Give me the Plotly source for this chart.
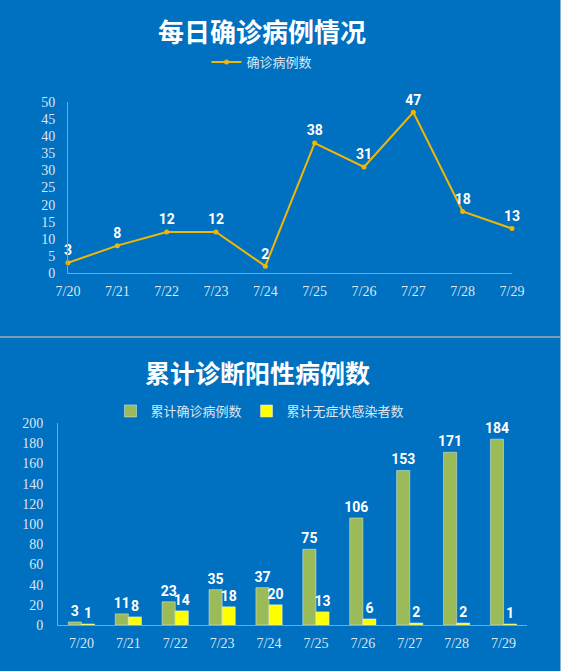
import plotly.graph_objects as go

dates = ["7/20", "7/21", "7/22", "7/23", "7/24", "7/25", "7/26", "7/27", "7/28", "7/29"]
daily_confirmed = [3, 8, 12, 12, 2, 38, 31, 47, 18, 13]
cum_confirmed = [3, 11, 23, 35, 37, 75, 106, 153, 171, 184]
cum_asymptomatic = [1, 8, 14, 18, 20, 13, 6, 2, 2, 1]

top_title = "每日确诊病例情况"
bottom_title = "累计诊断阳性病例数"
top_ticks = [0, 5, 10, 15, 20, 25, 30, 35, 40, 45, 50]
bottom_ticks = [0, 20, 40, 60, 80, 100, 120, 140, 160, 180, 200]

BG = "#0070C0"
AX = "#8C9FB8"
TICKC = "#DDE6F0"
LABEL_FONT = dict(family="Roboto, DejaVu Sans", size=14, color="white", weight="bold")
TICK_FONT = dict(family="Liberation Serif, Times New Roman, serif", size=14, color=TICKC)
CJK = "Noto Sans CJK SC"

W, H = 561, 671

def py(px):
    return 1 - px / H

fig = go.Figure()

fig.add_trace(go.Scatter(
    x=dates, y=daily_confirmed, name="确诊病例数",
    mode="lines+markers+text", text=[str(v) for v in daily_confirmed],
    textposition="top center", textfont=LABEL_FONT,
    line=dict(color="#F2B705", width=2), marker=dict(color="#F2B705", size=5),
    xaxis="x", yaxis="y", legend="legend", cliponaxis=False,
))

fig.add_trace(go.Bar(
    x=dates, y=cum_confirmed, name="累计确诊病例数",
    marker=dict(color="#9BBB59"), text=[str(v) for v in cum_confirmed],
    textposition="outside", textfont=LABEL_FONT, constraintext="none",
    xaxis="x2", yaxis="y2", legend="legend2", cliponaxis=False,
))
fig.add_trace(go.Bar(
    x=dates, y=cum_asymptomatic, name="累计无症状感染者数",
    marker=dict(color="#FFFF00"), text=[str(v) for v in cum_asymptomatic],
    textposition="outside", textfont=LABEL_FONT, constraintext="none",
    xaxis="x2", yaxis="y2", legend="legend2", cliponaxis=False,
))

fig.update_layout(
    width=W, height=H,
    margin=dict(l=0, r=0, t=0, b=0, pad=0, autoexpand=False),
    paper_bgcolor=BG, plot_bgcolor=BG,
    barmode="group", bargap=0.44, bargroupgap=0,
    xaxis=dict(domain=[68 / W, 512 / W], type="category", range=[0, 9],
               showgrid=False, showline=True, linecolor=AX, linewidth=1,
               ticks="", tickfont=TICK_FONT, anchor="y", ticklabelstandoff=5),
    yaxis=dict(domain=[py(273), py(102)], range=[0, 50], tickvals=top_ticks,
               showgrid=False, showline=True, linecolor=AX, linewidth=1,
               ticks="", tickfont=TICK_FONT, anchor="x", zeroline=False, ticklabelstandoff=9),
    xaxis2=dict(domain=[58 / W, 527 / W], type="category", range=[-0.5, 9.5],
                showgrid=False, showline=True, linecolor=AX, linewidth=1,
                ticks="", tickfont=TICK_FONT, anchor="y2", ticklabelstandoff=5),
    yaxis2=dict(domain=[py(625), py(423)], range=[0, 200], tickvals=bottom_ticks,
                showgrid=False, showline=True, linecolor=AX, linewidth=1,
                ticks="", tickfont=TICK_FONT, anchor="x2", zeroline=False, ticklabelstandoff=11),
    legend=dict(orientation="h", x=262 / W, xanchor="center", y=py(62), yanchor="middle",
                font=dict(family=CJK, size=13, color=TICKC), bgcolor="rgba(0,0,0,0)"),
    legend2=dict(orientation="h", x=260 / W, xanchor="center", y=py(411), yanchor="middle",
                 font=dict(family=CJK, size=13, color=TICKC), bgcolor="rgba(0,0,0,0)",
                 itemwidth=30),
    showlegend=True,
    annotations=[
        dict(text=top_title, x=262 / W, y=py(30), xref="paper", yref="paper",
             showarrow=False, xanchor="center", yanchor="middle",
             font=dict(family=CJK, size=26, color="white", weight="bold")),
        dict(text=bottom_title, x=257 / W, y=py(372), xref="paper", yref="paper",
             showarrow=False, xanchor="center", yanchor="middle",
             font=dict(family=CJK, size=25, color="white", weight="bold")),
    ],
    shapes=[
        dict(type="line", xref="paper", yref="paper", x0=0, x1=1, y0=py(337), y1=py(337),
             line=dict(color="#7F9AB8", width=2)),
        dict(type="line", xref="paper", yref="paper", x0=1 - 0.5 / W, x1=1 - 0.5 / W, y0=0, y1=1,
             line=dict(color="#8AB4DC", width=1)),
    ],
)

fig.write_html("out.html")
